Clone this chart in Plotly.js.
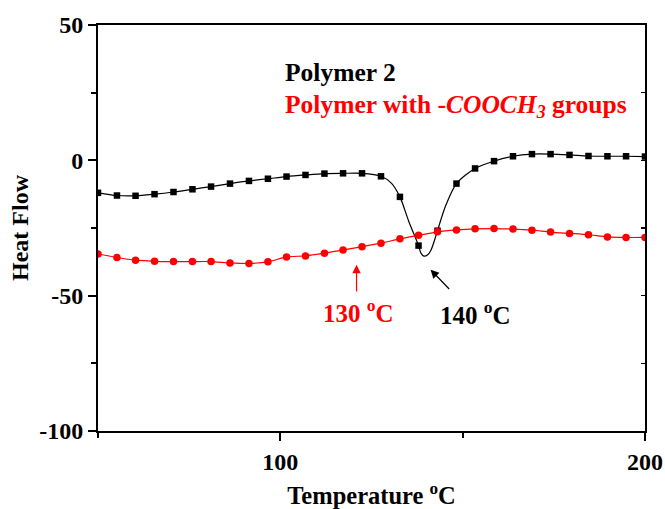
<!DOCTYPE html>
<html>
<head>
<meta charset="utf-8">
<script src="https://cdn.plot.ly/plotly-3.0.1.min.js"></script>
<style>html,body{margin:0;padding:0;background:#fff;}#chart{width:665px;height:509px;}</style>
</head>
<body>
<div id="chart"></div>
<script>
// Marker temperatures (°C)
const markerTemp = [50, 55.2, 60.3, 65.5, 70.7, 75.9, 81.0, 86.2, 91.4, 96.6,
  101.7, 106.9, 112.1, 117.2, 122.4, 127.6, 132.8, 137.9, 143.1, 148.3,
  153.4, 158.6, 163.8, 169.0, 174.1, 179.3, 184.5, 189.7, 194.8, 200];

// Polymer 2 (black squares)
const polymer2 = [-12.0, -13.0, -13.1, -12.5, -11.7, -10.7, -9.7, -8.6, -7.6, -6.8,
  -6.0, -5.4, -4.9, -4.8, -4.8, -5.9, -13.5, -31.5, -26.0, -8.6,
  -3.0, -0.3, 1.5, 2.3, 2.3, 2.0, 1.6, 1.5, 1.5, 1.4];

// Polymer 2 continuous trace (extra points through the endothermic dip)
const curveTemp = [50, 55.2, 60.3, 65.5, 70.7, 75.9, 81.0, 86.2, 91.4, 96.6,
  101.7, 106.9, 112.1, 117.2, 122.4, 127.6, 130.5, 132.8, 135.2, 137.9,
  138.6, 139.4, 140.4, 141.3, 142.5, 143.1, 145.3, 148.3,
  153.4, 158.6, 163.8, 169.0, 174.1, 179.3, 184.5, 189.7, 194.8, 200];
const curveFlow = [-12.0, -13.0, -13.1, -12.5, -11.7, -10.7, -9.7, -8.6, -7.6, -6.8,
  -6.0, -5.4, -4.9, -4.8, -4.8, -5.9, -8.5, -13.5, -22.5, -31.5,
  -34.4, -35.4, -34.9, -33.2, -28.6, -26.0, -16.9, -8.6,
  -3.0, -0.3, 1.5, 2.3, 2.3, 2.0, 1.6, 1.5, 1.5, 1.4];

// Polymer with -COOCH3 groups (red circles)
const polymerCOOCH3 = [-34.6, -35.9, -36.9, -37.3, -37.4, -37.4, -37.4, -37.9, -38.1, -37.5,
  -35.7, -35.3, -34.3, -33.1, -31.9, -30.6, -29.0, -27.7, -26.4, -25.7,
  -25.3, -25.2, -25.4, -25.8, -26.5, -27.0, -27.5, -28.3, -28.5, -28.5];

// Tick labels
const yTickVals = [50, 0, -50, -100];
const yTickText = ['50', '0', '-50', '-100'];
const xTickVals = [100, 200];
const xTickText = ['100', '200'];

const FONT = 'Liberation Serif, Times New Roman, serif';

const traces = [
  {x: curveTemp, y: curveFlow, mode: 'lines', type: 'scatter',
   line: {color: '#000000', width: 1.2, shape: 'spline', smoothing: 0.8},
   hoverinfo: 'skip', showlegend: false},
  {x: markerTemp, y: polymer2, mode: 'markers', type: 'scatter',
   marker: {symbol: 'square', size: 6.5, color: '#000000'},
   showlegend: false, name: 'Polymer 2'},
  {x: markerTemp, y: polymerCOOCH3, mode: 'lines+markers', type: 'scatter',
   line: {color: '#ff0000', width: 1.2, shape: 'spline', smoothing: 0.6},
   marker: {symbol: 'circle', size: 7.5, color: '#ff0000'},
   showlegend: false, name: 'Polymer with -COOCH3 groups'},
  {x: [50, 200], y: [50, -100], yaxis: 'y2', mode: 'markers', type: 'scatter',
   marker: {opacity: 0}, hoverinfo: 'skip', showlegend: false}
];

const layout = {
  width: 665, height: 509,
  margin: {l: 98, r: 20, t: 25, b: 78, pad: 0},
  paper_bgcolor: '#ffffff', plot_bgcolor: '#ffffff',
  font: {family: FONT, size: 22, color: '#000000'},
  showlegend: false,
  xaxis: {
    range: [50, 200], tickmode: 'array', tickvals: xTickVals, ticktext: xTickText,
    showgrid: false, zeroline: false,
    showline: true, linecolor: '#000000', linewidth: 2, mirror: true,
    ticks: 'outside', ticklen: 8, tickwidth: 2, tickcolor: '#000000',
    minor: {dtick: 50, tick0: 0, ticks: 'outside', ticklen: 5, tickwidth: 2, tickcolor: '#000000'},
    tickfont: {family: FONT, size: 24, weight: 'bold'},
    title: {text: 'Temperature <sup>o</sup>C', font: {family: FONT, size: 24.5, weight: 'bold'}, standoff: 16}
  },
  yaxis: {
    range: [-100, 50], tickmode: 'array', tickvals: yTickVals, ticktext: yTickText,
    showgrid: false, zeroline: false,
    showline: true, linecolor: '#000000', linewidth: 2, mirror: true,
    ticks: 'outside', ticklen: 8, tickwidth: 2, tickcolor: '#000000',
    minor: {dtick: 25, tick0: 0, ticks: 'outside', ticklen: 5, tickwidth: 2, tickcolor: '#000000'},
    tickfont: {family: FONT, size: 24, weight: 'bold'},
    title: {text: 'Heat Flow', font: {family: FONT, size: 24, weight: 'bold'}, standoff: 4}
  },
  yaxis2: {
    overlaying: 'y', side: 'right', range: [-100, 50], tick0: 0, dtick: 25,
    showgrid: false, zeroline: false, showline: false,
    ticks: 'inside', ticklen: 4, tickwidth: 1.5, tickcolor: '#000000',
    showticklabels: false
  },
  annotations: [
    {xref: 'x', yref: 'y', x: 100.8, y: 32.4, xanchor: 'left', yanchor: 'middle',
     text: 'Polymer 2', showarrow: false,
     font: {family: FONT, size: 25.5, weight: 'bold', color: '#000000'}},
    {xref: 'x', yref: 'y', x: 100.8, y: 20.0, xanchor: 'left', yanchor: 'middle',
     text: 'Polymer with -<i>COOCH<sub>3</sub></i> groups', showarrow: false,
     font: {family: FONT, size: 25.5, weight: 'bold', color: '#ff0000'}},
    {xref: 'x', yref: 'y', axref: 'x', ayref: 'y', x: 120.9, y: -38.6, ax: 120.9, ay: -49.0,
     text: '', showarrow: true, arrowhead: 2, arrowsize: 1.4, arrowwidth: 1.2, arrowcolor: '#ff0000'},
    {xref: 'x', yref: 'y', x: 121.3, y: -55.7, xanchor: 'center', yanchor: 'middle',
     text: '130 <sup>o</sup>C', showarrow: false,
     font: {family: FONT, size: 25, weight: 'bold', color: '#ff0000'}},
    {xref: 'x', yref: 'y', axref: 'x', ayref: 'y', x: 141.2, y: -40.4, ax: 146.7, ay: -48.1,
     text: '', showarrow: true, arrowhead: 2, arrowsize: 1.4, arrowwidth: 1.2, arrowcolor: '#000000'},
    {xref: 'x', yref: 'y', x: 153.4, y: -56.3, xanchor: 'center', yanchor: 'middle',
     text: '140 <sup>o</sup>C', showarrow: false,
     font: {family: FONT, size: 25, weight: 'bold', color: '#000000'}}
  ]
};

Plotly.newPlot('chart', traces, layout, {staticPlot: true, displayModeBar: false});
</script>
</body>
</html>
